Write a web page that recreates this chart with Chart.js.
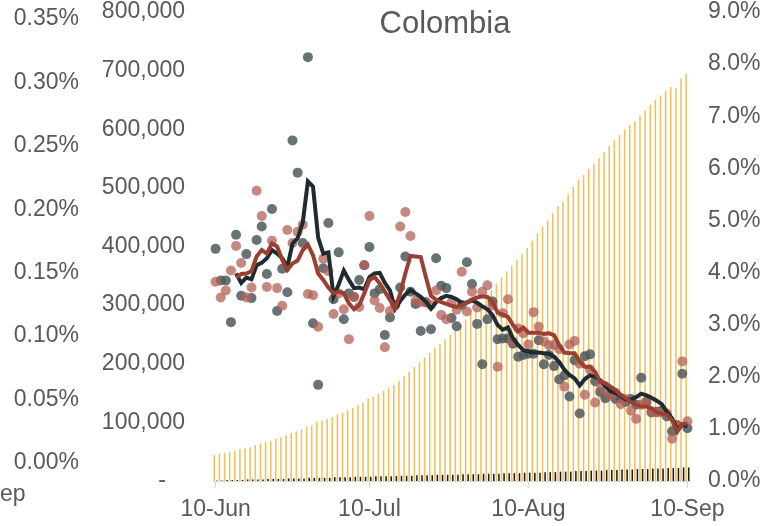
<!DOCTYPE html>
<html>
<head>
<meta charset="utf-8">
<title>Colombia</title>
<script src="https://cdn.jsdelivr.net/npm/chart.js@4.4.0/dist/chart.umd.min.js"></script>
<style>
  body { margin: 0; background: #fff; }
  #wrap { position: relative; width: 774px; height: 526px; font-family: "Liberation Sans", Arial, sans-serif; color: #595959; }
  #chart_title { position: absolute; top: 5px; left: 445px; transform: translateX(-50%); font-size: 31px; white-space: nowrap; }
  #cut_label { position: absolute; left: 0; top: 480px; font-size: 23px; }
</style>
</head>
<body>
<div id="wrap">
  <canvas id="colombia" width="774" height="526"></canvas>
  <div id="chart_title">Colombia</div>
  <div id="cut_label">ep</div>
</div>
<script>
// Days shown on the chart: 10-Jun to 10-Sep
var firstDay = Date.UTC(2020, 5, 10);
var dayCount = 93;
var monthNames = ["Jan", "Feb", "Mar", "Apr", "May", "Jun", "Jul", "Aug", "Sep", "Oct", "Nov", "Dec"];
var dayLabels = [];
for (var i = 0; i < dayCount; i++) {
    var d = new Date(firstDay + i * 86400000);
    dayLabels.push(d.getUTCDate() + "-" + monthNames[d.getUTCMonth()]);
}

// Daily values (grey dots), left axis
var greyDaily = [396000, 342000, 342000, 271000, 420000, 316000, 387000, 312000, 411000, 434000,
    353000, 464000, 290000, 362000, 322000, 581000, 526000, 406000, 723000, 269000,
    164000, 363000, 440000, 310000, 390000, 276000, 320000, 314000, 343000, 368000,
    399000, 320000, 327000, 249000, 279000, 300000, 330000, 383000, 323000, 302000,
    256000, 305000, 259000, 380000, 333000, 329000, 278000, 264000, 300000, 373000,
    336000, 268000, 199000, 276000, 306000, 242000, 243000, 243000, 234000, 212000,
    215000, 217000, 217000, 240000, 199000, 215000, 196000, 173000, 180000, 144000,
    206000, 115000, 213000, 216000, 170000, 152000, 141000, 148000, 140000, 141000,
    135000, 140000, 130000, 176000, 135000, 117000, 118000, 120000, 110000, 85000,
    95000, 183000, 90000];

// Daily values (red dots), left axis
var redDaily = [340000, 313000, 325000, 359000, 401000, 372000, 313000, 330000, 495000, 452000,
    331000, 410000, 329000, 299000, 428000, 406000, 425000, 437000, 319000, 317000,
    263000, 379000, 358000, 285000, 320000, 293000, 242000, 314000, 297000, 368000,
    452000, 308000, 295000, 228000, 290000, 300000, 434000, 459000, 418000, 308000,
    305000, 305000, 300000, 325000, 283000, 276000, 305000, 292000, 357000, 289000,
    323000, 296000, 323000, 334000, 300000, 195000, 286000, 310000, 238000, 260000,
    252000, 233000, 288000, 263000, 238000, 232000, 232000, 225000, 161000, 233000,
    239000, 200000, 147000, 190000, 134000, 165000, 154000, 146000, 150000, 131000,
    140000, 120000, 106000, 130000, 134000, 118000, 117000, 117000, 115000, 72000,
    95000, 204000, 102000];

// Smoothed lines
var greyAverage = [null, null, null, null,
    354000, 338000, 347000, 344000, 368000, 372000, 380000, 394000, 388000, 380000,
    365000, 405000, 414000, 441000, 511000, 502000, 415000, 388000, 390000, 315000,
    335000, 359000, 343000, 329000, 330000, 327000, 348000, 354000, 355000, 338000,
    325000, 294000, 307000, 318000, 326000, 320000, 314000, 306000, 294000, 305000,
    312000, 316000, 314000, 310000, 304000, 304000, 308000, 304000, 298000, 293000,
    283000, 266000, 258000, 262000, 243000, 232000, 223000, 221000, 219000, 219000,
    218000, 217000, 212000, 203000, 190000, 181000, 175000, 163000, 174000, 180000,
    178000, 172000, 162000, 153000, 150000, 145000, 139000, 139000, 143000, 149000,
    146000, 142000, 137000, 131000, 118000, 107000, 88000, 96000, 93000];

var redAverage = [null, null, null, null,
    347000, 353000, 354000, 358000, 383000, 394000, 388000, 405000, 400000, 377000,
    360000, 371000, 376000, 394000, 403000, 385000, 354000, 343000, 330000, 320000,
    323000, 320000, 303000, 293000, 300000, 320000, 343000, 348000, 337000, 323000,
    309000, 295000, 320000, 354000, 384000, 383000, 382000, 348000, 316000, 309000,
    305000, 302000, 299000, 297000, 300000, 305000, 310000, 313000, 315000, 314000,
    306000, 287000, 284000, 280000, 266000, 255000, 262000, 253000, 253000, 253000,
    251000, 252000, 249000, 232000, 219000, 218000, 218000, 204000, 195000, 195000,
    186000, 169000, 167000, 161000, 155000, 147000, 141000, 135000, 130000, 127000,
    127000, 124000, 118000, 115000, 113000, 104000, 84000, 97000, 98000];

// Bars on the right axis (%)
var yellowBars = [0.50, 0.52, 0.54, 0.56, 0.58, 0.61, 0.63, 0.65, 0.69, 0.72,
    0.75, 0.77, 0.81, 0.84, 0.88, 0.92, 0.95, 0.99, 1.04, 1.07,
    1.14, 1.16, 1.19, 1.23, 1.28, 1.31, 1.36, 1.40, 1.46, 1.50,
    1.59, 1.62, 1.67, 1.73, 1.78, 1.84, 1.92, 2.01, 2.10, 2.19,
    2.28, 2.37, 2.46, 2.55, 2.63, 2.72, 2.80, 2.90, 2.99, 3.10,
    3.22, 3.31, 3.43, 3.54, 3.67, 3.79, 3.90, 4.02, 4.13, 4.24,
    4.36, 4.47, 4.61, 4.75, 4.88, 5.00, 5.14, 5.27, 5.36, 5.50,
    5.64, 5.78, 5.87, 5.99, 6.08, 6.20, 6.31, 6.43, 6.54, 6.64,
    6.74, 6.83, 6.90, 7.01, 7.11, 7.22, 7.31, 7.40, 7.49, 7.56,
    7.54, 7.72, 7.81];

var blackBars = [0.01, 0.01, 0.02, 0.02, 0.02, 0.02, 0.03, 0.03, 0.03, 0.03,
    0.04, 0.04, 0.04, 0.04, 0.05, 0.05, 0.05, 0.05, 0.06, 0.06,
    0.06, 0.06, 0.06, 0.07, 0.07, 0.07, 0.07, 0.08, 0.08, 0.08,
    0.08, 0.09, 0.09, 0.09, 0.09, 0.10, 0.10, 0.10, 0.10, 0.11,
    0.11, 0.11, 0.11, 0.12, 0.12, 0.12, 0.12, 0.12, 0.13, 0.13,
    0.13, 0.13, 0.14, 0.14, 0.14, 0.14, 0.15, 0.15, 0.15, 0.15,
    0.16, 0.16, 0.16, 0.16, 0.17, 0.17, 0.17, 0.18, 0.18, 0.18,
    0.19, 0.19, 0.19, 0.20, 0.20, 0.20, 0.21, 0.21, 0.21, 0.22,
    0.22, 0.22, 0.23, 0.23, 0.23, 0.24, 0.24, 0.24, 0.25, 0.25,
    0.25, 0.26, 0.26];

// Tick labels of the outer left axis (%)
var outerTicks = [0, 0.05, 0.10, 0.15, 0.20, 0.25, 0.30, 0.35];

var textGrey = "#595959";
var tickFont = { family: "'Liberation Sans', Arial, sans-serif", size: 23 };

// Only the 10th of each month gets a label and a tick mark
function is_tick_day(index) {
    return dayLabels[index] !== undefined && dayLabels[index].indexOf("10-") === 0;
}

// Sets a fixed width for a vertical axis and stops its label padding from shrinking the plot
function fix_vertical_axis(width) {
    return function (scale) {
        scale.width = width;
        scale.paddingTop = 0;
        scale.paddingBottom = 0;
    };
}

new Chart("colombia", {
    type: "bar",
    data: {
        labels: dayLabels,
        datasets: [
            { type: "line", data: redAverage, yAxisID: "yCases", borderColor: "#9c3f33", borderWidth: 4,
              pointRadius: 0, tension: 0, order: 0 },
            { type: "line", data: greyAverage, yAxisID: "yCases", borderColor: "#1f2b2e", borderWidth: 4,
              pointRadius: 0, tension: 0, order: 1 },
            { type: "line", data: redDaily, yAxisID: "yCases", showLine: false, pointRadius: 5,
              pointBorderWidth: 0, pointBackgroundColor: "rgba(178,98,88,0.75)", order: 2 },
            { type: "line", data: greyDaily, yAxisID: "yCases", showLine: false, pointRadius: 5,
              pointBorderWidth: 0, pointBackgroundColor: "rgba(80,90,92,0.85)", order: 3 },
            { type: "bar", data: yellowBars, yAxisID: "yRight", backgroundColor: "#f1bf5c",
              categoryPercentage: 1, barPercentage: 0.6, order: 4 },
            { type: "bar", data: blackBars, yAxisID: "yRight", backgroundColor: "#1b1b1b",
              categoryPercentage: 1, barPercentage: 0.6, order: 5 }
        ]
    },
    options: {
        responsive: false,
        animation: false,
        devicePixelRatio: 1,
        layout: { padding: { top: 12, left: 0, right: 0, bottom: 0 } },
        plugins: { legend: { display: false }, tooltip: { enabled: false } },
        scales: {
            x: {
                offset: true,
                grid: {
                    offset: false,
                    drawOnChartArea: false,
                    tickLength: 7,
                    color: function (ctx) { return is_tick_day(ctx.index) ? "#d9d9d9" : "rgba(0,0,0,0)"; }
                },
                border: { color: "#d9d9d9", width: 1 },
                ticks: {
                    autoSkip: false, maxRotation: 0, minRotation: 0, padding: 8,
                    color: textGrey, font: tickFont,
                    callback: function (value, index) { return is_tick_day(index) ? dayLabels[index] : ""; }
                },
                afterFit: function (scale) { scale.height = 45; }
            },
            yCases: {
                position: "left", weight: 0, min: 0, max: 800000,
                grid: { display: false, drawTicks: false }, border: { display: false },
                ticks: {
                    stepSize: 100000, padding: 28, color: textGrey, font: tickFont,
                    callback: function (value) { return value === 0 ? "-   " : value.toLocaleString("en-US"); }
                },
                afterFit: fix_vertical_axis(118)
            },
            yOuter: {
                position: "left", weight: 1, min: -0.0142, max: 0.3555,
                grid: { display: false, drawTicks: false }, border: { display: false },
                afterBuildTicks: function (scale) {
                    scale.ticks = outerTicks.map(function (v) { return { value: v }; });
                },
                ticks: {
                    padding: 16, color: textGrey, font: tickFont,
                    callback: function (value) { return value.toFixed(2) + "%"; }
                },
                afterFit: fix_vertical_axis(95)
            },
            yRight: {
                position: "right", min: 0, max: 9,
                grid: { display: false, drawTicks: false }, border: { display: false },
                ticks: {
                    stepSize: 1, padding: 18, color: textGrey, font: tickFont,
                    callback: function (value) { return value.toFixed(1) + "%"; }
                },
                afterFit: fix_vertical_axis(84)
            }
        }
    }
});
</script>
</body>
</html>
